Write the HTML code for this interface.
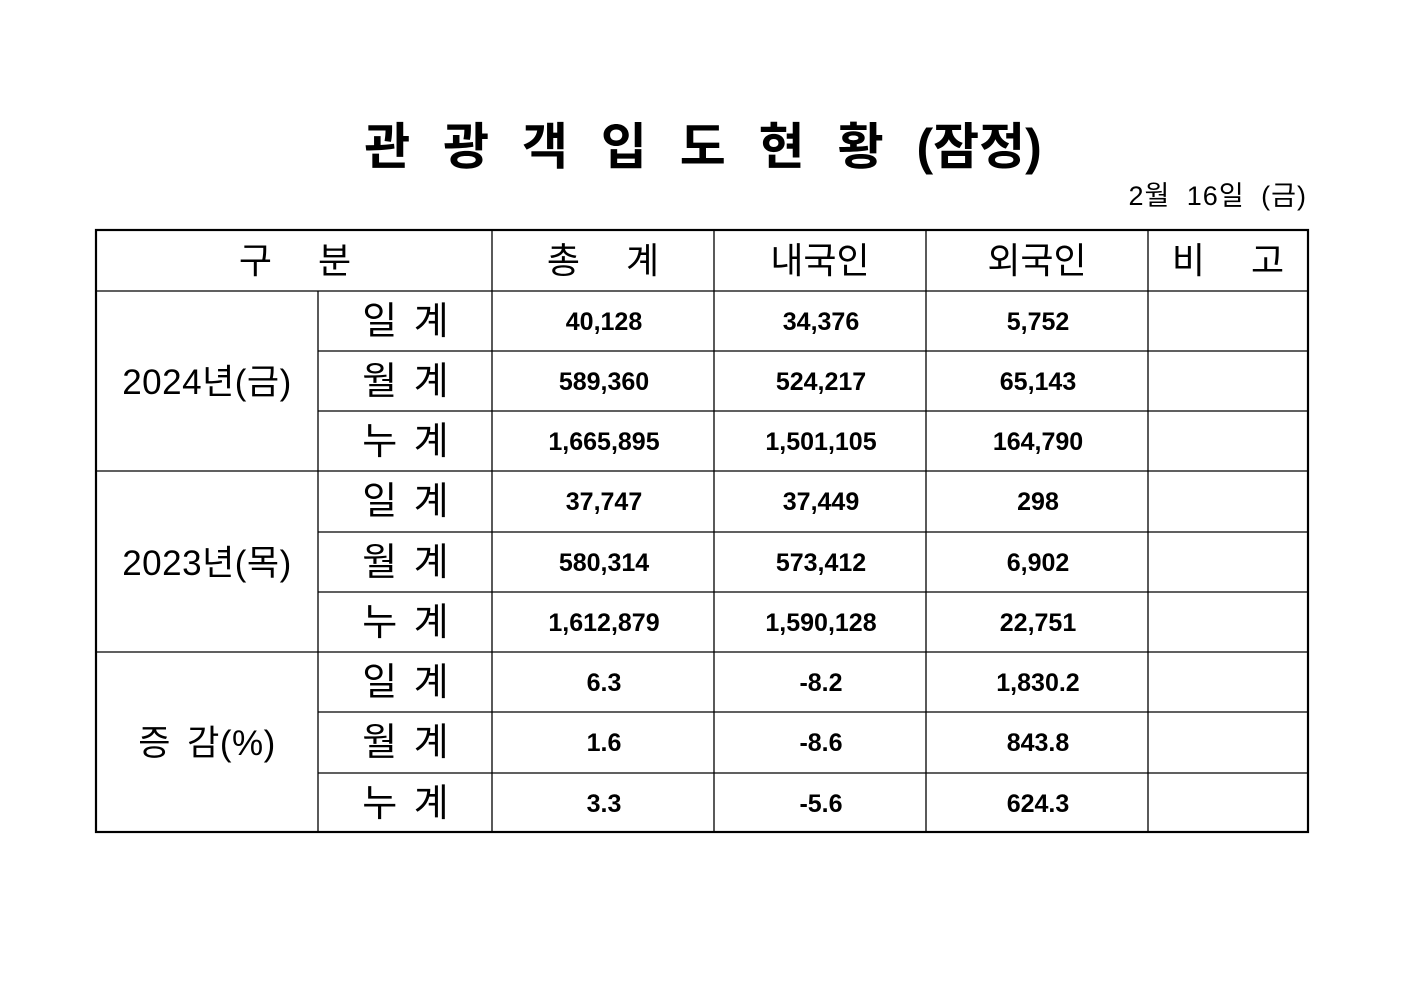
<!DOCTYPE html>
<html><head><meta charset="utf-8"><style>
html,body{margin:0;padding:0;background:#fff;}
svg{display:block;}
text{font-family:"Liberation Sans","Noto Sans CJK KR",sans-serif;fill:#000;}
.h{font-size:36px;}
.l{font-size:38px;letter-spacing:3px;}
.y{font-size:35px;letter-spacing:0.5px;}
.n{font-size:25px;font-weight:bold;}
</style></head><body>
<svg width="1403" height="992" xmlns="http://www.w3.org/2000/svg">
<text x="703" y="164" text-anchor="middle" style="font-size:50px;font-weight:bold"><tspan style="letter-spacing:9.5px">관 광 객 입 도 현 황 </tspan><tspan>(잠정)</tspan></text>
<text x="1307" y="205" text-anchor="end" style="font-size:27px;word-spacing:8px;letter-spacing:1px">2월 16일 (금)</text>
<g stroke="#000" stroke-width="1.3">
<line x1="96" y1="291" x2="1308" y2="291"/>
<line x1="318" y1="351" x2="1308" y2="351"/>
<line x1="318" y1="411" x2="1308" y2="411"/>
<line x1="96" y1="471" x2="1308" y2="471"/>
<line x1="318" y1="532" x2="1308" y2="532"/>
<line x1="318" y1="592" x2="1308" y2="592"/>
<line x1="96" y1="652" x2="1308" y2="652"/>
<line x1="318" y1="712" x2="1308" y2="712"/>
<line x1="318" y1="773" x2="1308" y2="773"/>
<line x1="318" y1="291" x2="318" y2="832"/>
<line x1="492" y1="230" x2="492" y2="832"/>
<line x1="714" y1="230" x2="714" y2="832"/>
<line x1="926" y1="230" x2="926" y2="832"/>
<line x1="1148" y1="230" x2="1148" y2="832"/>
</g>
<rect x="96" y="230" width="1212" height="602" fill="none" stroke="#000" stroke-width="2.2"/>
<g class="h" text-anchor="middle">
<text x="295" y="273">구　 분</text>
<text x="603" y="273">총　 계</text>
<text x="820" y="273">내국인</text>
<text x="1037" y="273">외국인</text>
<text x="1228" y="273">비　 고</text>
</g>
<g class="l" text-anchor="middle">
<text x="407" y="334">일 계</text><text x="407" y="394">월 계</text><text x="407" y="454">누 계</text>
<text x="407" y="514">일 계</text><text x="407" y="575">월 계</text><text x="407" y="635">누 계</text>
<text x="407" y="695">일 계</text><text x="407" y="755">월 계</text><text x="407" y="816">누 계</text>
</g>
<g class="y" text-anchor="middle">
<text x="207" y="394">2024년(금)</text>
<text x="207" y="575">2023년(목)</text>
<text x="207" y="755" style="word-spacing:6px">증 감(%)</text>
</g>
<g class="n" text-anchor="middle">
<text x="604" y="330">40,128</text><text x="821" y="330">34,376</text><text x="1038" y="330">5,752</text>
<text x="604" y="390">589,360</text><text x="821" y="390">524,217</text><text x="1038" y="390">65,143</text>
<text x="604" y="450">1,665,895</text><text x="821" y="450">1,501,105</text><text x="1038" y="450">164,790</text>
<text x="604" y="510">37,747</text><text x="821" y="510">37,449</text><text x="1038" y="510">298</text>
<text x="604" y="571">580,314</text><text x="821" y="571">573,412</text><text x="1038" y="571">6,902</text>
<text x="604" y="631">1,612,879</text><text x="821" y="631">1,590,128</text><text x="1038" y="631">22,751</text>
<text x="604" y="691">6.3</text><text x="821" y="691">-8.2</text><text x="1038" y="691">1,830.2</text>
<text x="604" y="751">1.6</text><text x="821" y="751">-8.6</text><text x="1038" y="751">843.8</text>
<text x="604" y="812">3.3</text><text x="821" y="812">-5.6</text><text x="1038" y="812">624.3</text>
</g>
</svg>
</body></html>
